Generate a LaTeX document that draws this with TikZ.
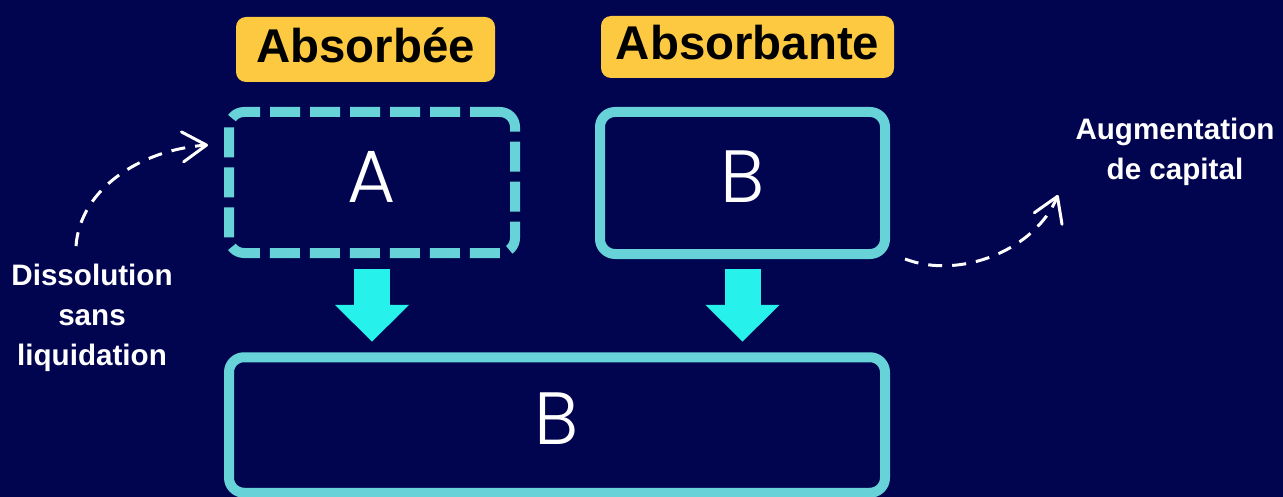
\documentclass[tikz,border=0pt]{standalone}
\usepackage{fontspec}
\setmainfont{Liberation Sans}
\newfontfamily\thinfont{Poppins}[UprightFont={* Light}]
\usetikzlibrary{positioning,arrows.meta}

\definecolor{navy}{RGB}{1,5,80}
\definecolor{tealline}{RGB}{103,211,216}
\definecolor{cyanarrow}{RGB}{38,242,235}
\definecolor{tagyellow}{RGB}{252,201,64}

\begin{document}
\begin{tikzpicture}[x=0.5pt,y=-0.5pt,on grid,
    company/.style={draw=tealline, line width=5pt, rounded corners=7.5pt,
      text=white, inner sep=0pt, text depth=6pt,
      font=\thinfont\fontsize{37}{40}\selectfont},
    tag/.style={fill=tagyellow, rounded corners=5pt, text=black, inner sep=0pt,
      text depth=4.5pt, font=\bfseries\fontsize{23.7}{26}\selectfont},
    note/.style={text=white, align=center, font=\bfseries\fontsize{14.8}{20}\selectfont},
    merge/.style={draw=cyanarrow, line width=18pt,
      -{Triangle[length=18.5pt,width=36pt]}, shorten <=5pt, shorten >=5.25pt},
    flow/.style={draw=white, line width=1.5pt, dash pattern=on 7pt off 5pt,
      -{Straight Barb[round,length=12pt,width=15pt]}}]
  \useasboundingbox (0,0) rectangle (1283,497);
  \fill[navy] (0,0) rectangle (1283,497);

  % sociétés
  \node[company, dashed, dash pattern=on 15pt off 5pt,
        minimum width=143pt, minimum height=70.5pt] (box_a) at (372,182.5) {A};
  \node[company, minimum width=142.5pt, minimum height=71pt] (box_b) at (742.5,183) {B};
  \node[company, minimum width=328pt, minimum height=67.75pt] (box_c) at (557,425) {B};

  % étiquettes
  \node[tag, minimum width=129.5pt, minimum height=32.5pt]
        (tag_a) [above=66.5pt of box_a, xshift=-3.25pt] {Absorbée};
  \node[tag, minimum width=146.5pt, minimum height=31pt]
        (tag_b) [above=68pt of box_b, xshift=2.5pt] {Absorbante};

  \node[note] (txt_dis) at (92,318) {Dissolution\\sans\\liquidation};
  \node[note] (txt_aug) at (1175,152) {Augmentation\\de capital};

  % fusion
  \draw[merge, shorten <=5.5pt] (box_a.south) -- (box_a.south |- box_c.north);
  \draw[merge] (box_b.south) -- (box_b.south |- box_c.north);

  \draw[flow] ([shift={(-16,-11)}]txt_dis.north)
    .. controls +(4,-57) and +(-68,5) .. ([shift={(-16,38)}]box_a.north west);
  \draw[flow] ([shift={(15,0)}]box_b.south east)
    .. controls +(55,21) and +(-23,55) .. ([shift={(168,-64)}]box_b.south east);
\end{tikzpicture}
\end{document}
